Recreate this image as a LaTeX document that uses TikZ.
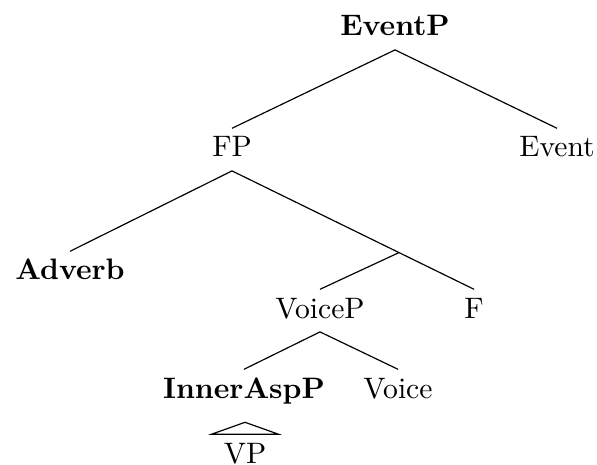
\documentclass[tikz,border=0pt]{standalone}
\usetikzlibrary{calc}

\begin{document}
\begin{tikzpicture}[
    x=0.33784pt, y=-0.33784pt,
    cat/.style={anchor=base, inner xsep=3pt, inner ysep=3pt, text height=6.5pt, text depth=1.5pt},
    head/.style={cat, font=\bfseries},
    branch/.style={line width=0.4pt}
]
\useasboundingbox (0,0) rectangle (597,465);

% Nodes
\node[head] (eventp) at (395,36) {EventP};
\node[cat] (fp) at (232,157) {FP};
\node[cat] (event) at (557,157) {Event};
\node[head] (adverb) at (70,280) {Adverb};
\node[cat] (voicep) at (320,318) {VoiceP};
\node[cat] (f) at (474,318) {F};
\node[head] (inneraspp) at (244,398) {InnerAspP};
\node[cat] (voice) at (398,398) {Voice};
\node[cat, inner xsep=4pt] (vp) at (245,463) {VP};
\coordinate (fbar) at ($(fp.south)!0.69!(f.north)$);

% Branches
\draw[branch] (eventp.south) -- (fp.north);
\draw[branch] (eventp.south) -- (event.north);
\draw[branch] (fp.south) -- (adverb.north);
\draw[branch] (fp.south) -- (f.north);
\draw[branch] (fbar) -- (voicep.north);
\draw[branch] (voicep.south) -- (inneraspp.north);
\draw[branch] (voicep.south) -- (voice.north);
\draw[branch] (vp.north west) -- ($(vp.north)+(0,-12)$) -- (vp.north east) -- cycle;

\end{tikzpicture}
\end{document}
